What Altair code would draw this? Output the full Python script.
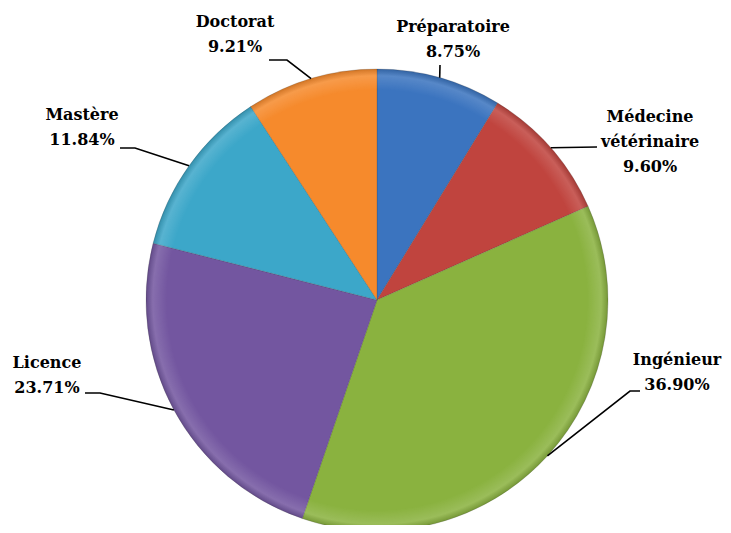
import math
import altair as alt
import pandas as pd

# ---- data ----
categories = ["Préparatoire", "Médecine vétérinaire", "Ingénieur", "Licence", "Mastère", "Doctorat"]
label_names = ["Préparatoire", "Médecine\nvétérinaire", "Ingénieur", "Licence", "Mastère", "Doctorat"]
values = [8.75, 9.60, 36.90, 23.71, 11.84, 9.21]
colors = ["#3B74BF", "#C0443E", "#8AB23F", "#7356A0", "#3CA7C9", "#F68A2C"]

# ---- layout (page pixel coordinates) ----
CX, CY, R = 377, 300, 231
label_x = [453, 650, 677, 47, 82, 235]
label_y = [27, 117, 360, 363, 115, 22]   # centre of first text line
leader_elbow = [(440, 65), (597, 147), (630, 391), (100, 393), (135, 148), (287, 60)]
leader_end = [(440, 65), (597, 147), (640, 391), (85, 393), (120, 148), (269, 60)]

total = sum(values)
pie = pd.DataFrame({"cat": categories, "value": values, "idx": list(range(len(values)))})

labels = pd.DataFrame({
    "cat": categories,
    "text": [f"{n}\n{v:.2f}%" for n, v in zip(label_names, values)],
    "x": label_x,
    "y": label_y,
})

rows = []
cum = 0.0
for i, (c, v) in enumerate(zip(categories, values)):
    mid = (cum + v / 2) / total * 2 * math.pi
    cum += v
    ex = CX + R * math.sin(mid)
    ey = CY - R * math.cos(mid)
    pts = [(ex, ey), leader_elbow[i], leader_end[i]]
    for k, (px, py) in enumerate(pts):
        rows.append({"cat": c, "o": k, "x": px, "y": py})
lines = pd.DataFrame(rows)

xs = alt.Scale(domain=[8, 723], nice=False, zero=False)
ys = alt.Scale(domain=[8, 525], nice=False, zero=False, reverse=True)

arcs = alt.Chart(pie).mark_arc(outerRadius=R, stroke="#333333", strokeWidth=0.4, strokeOpacity=0.5).encode(
    theta=alt.Theta("value:Q", stack=True),
    color=alt.Color("cat:N", scale=alt.Scale(domain=categories, range=colors), legend=None),
    order=alt.Order("idx:Q"),
    x=alt.value(CX - 8),
    y=alt.value(CY - 8),
)

rim = alt.Chart(pd.DataFrame({"v": [1]})).mark_arc(
    outerRadius=R,
    theta=0,
    theta2=2 * math.pi,
    fill=alt.Gradient(
        gradient="radial",
        stops=[
            alt.GradientStop(color="rgba(255,255,255,0)", offset=0),
            alt.GradientStop(color="rgba(255,255,255,0)", offset=0.91),
            alt.GradientStop(color="rgba(255,255,255,0.14)", offset=0.97),
            alt.GradientStop(color="rgba(0,0,0,0.15)", offset=1),
        ],
    ),
).encode(x=alt.value(CX - 8), y=alt.value(CY - 8))

leaders = alt.Chart(lines).mark_line(color="black", strokeWidth=1.6).encode(
    x=alt.X("x:Q", scale=xs, axis=None),
    y=alt.Y("y:Q", scale=ys, axis=None),
    detail="cat:N",
    order="o:Q",
)

texts = alt.Chart(labels).mark_text(
    font="DejaVu Serif",
    fontSize=16, fontWeight="bold", color="black",
    align="center", baseline="middle", lineBreak="\n", lineHeight=25,
).encode(
    x=alt.X("x:Q", scale=xs, axis=None),
    y=alt.Y("y:Q", scale=ys, axis=None),
    text="text:N",
)

chart = alt.layer(arcs, rim, leaders, texts).properties(
    width=715, height=517, autosize=alt.AutoSizeParams(type="none"), padding=0,
).configure_view(stroke=None)

chart.save("out.html", embed_options={"renderer": "svg", "actions": False})
